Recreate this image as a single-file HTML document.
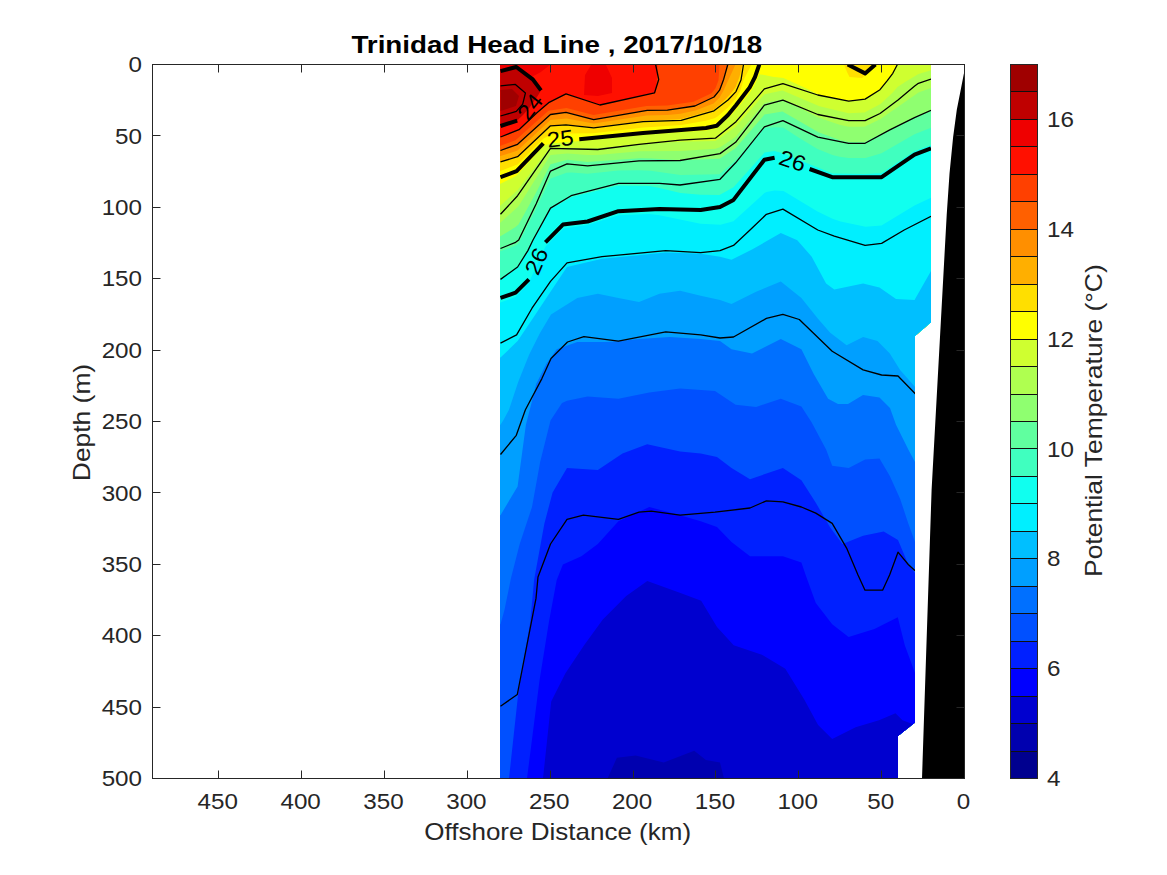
<!DOCTYPE html>
<html><head><meta charset="utf-8"><style>
html,body{margin:0;padding:0;background:#fff;width:1167px;height:875px;overflow:hidden}
svg{position:absolute;left:0;top:0;display:block}
.tk{font-family:"Liberation Sans",sans-serif;font-size:22px;fill:#262626}
.lbl{font-family:"Liberation Sans",sans-serif;font-size:23px;fill:#262626}
.ttl{font-family:"Liberation Sans",sans-serif;font-size:23px;font-weight:bold;fill:#000}
</style></head><body>
<svg width="1167" height="875" viewBox="0 0 1167 875" shape-rendering="auto">
<rect x="1010.5" y="751.04" width="27" height="27.46" fill="#00008f"/>
<rect x="1010.5" y="723.58" width="27" height="27.46" fill="#0000af"/>
<rect x="1010.5" y="696.12" width="27" height="27.46" fill="#0000cf"/>
<rect x="1010.5" y="668.65" width="27" height="27.46" fill="#0000ff"/>
<rect x="1010.5" y="641.19" width="27" height="27.46" fill="#0020ff"/>
<rect x="1010.5" y="613.73" width="27" height="27.46" fill="#0050ff"/>
<rect x="1010.5" y="586.27" width="27" height="27.46" fill="#0070ff"/>
<rect x="1010.5" y="558.81" width="27" height="27.46" fill="#009fff"/>
<rect x="1010.5" y="531.35" width="27" height="27.46" fill="#00bfff"/>
<rect x="1010.5" y="503.88" width="27" height="27.46" fill="#00efff"/>
<rect x="1010.5" y="476.42" width="27" height="27.46" fill="#10ffef"/>
<rect x="1010.5" y="448.96" width="27" height="27.46" fill="#40ffbf"/>
<rect x="1010.5" y="421.50" width="27" height="27.46" fill="#60ff9f"/>
<rect x="1010.5" y="394.04" width="27" height="27.46" fill="#8fff70"/>
<rect x="1010.5" y="366.58" width="27" height="27.46" fill="#afff50"/>
<rect x="1010.5" y="339.12" width="27" height="27.46" fill="#cfff30"/>
<rect x="1010.5" y="311.65" width="27" height="27.46" fill="#ffff00"/>
<rect x="1010.5" y="284.19" width="27" height="27.46" fill="#ffdf00"/>
<rect x="1010.5" y="256.73" width="27" height="27.46" fill="#ffaf00"/>
<rect x="1010.5" y="229.27" width="27" height="27.46" fill="#ff8f00"/>
<rect x="1010.5" y="201.81" width="27" height="27.46" fill="#ff6000"/>
<rect x="1010.5" y="174.35" width="27" height="27.46" fill="#ff4000"/>
<rect x="1010.5" y="146.88" width="27" height="27.46" fill="#ff1000"/>
<rect x="1010.5" y="119.42" width="27" height="27.46" fill="#ef0000"/>
<rect x="1010.5" y="91.96" width="27" height="27.46" fill="#bf0000"/>
<rect x="1010.5" y="64.50" width="27" height="27.46" fill="#9f0000"/>
<line x1="1010" y1="751.50" x2="1038" y2="751.50" stroke="#101010" stroke-width="1"/>
<line x1="1010" y1="723.50" x2="1038" y2="723.50" stroke="#101010" stroke-width="1"/>
<line x1="1010" y1="696.50" x2="1038" y2="696.50" stroke="#101010" stroke-width="1"/>
<line x1="1010" y1="668.50" x2="1038" y2="668.50" stroke="#101010" stroke-width="1"/>
<line x1="1010" y1="641.50" x2="1038" y2="641.50" stroke="#101010" stroke-width="1"/>
<line x1="1010" y1="613.50" x2="1038" y2="613.50" stroke="#101010" stroke-width="1"/>
<line x1="1010" y1="586.50" x2="1038" y2="586.50" stroke="#101010" stroke-width="1"/>
<line x1="1010" y1="558.50" x2="1038" y2="558.50" stroke="#101010" stroke-width="1"/>
<line x1="1010" y1="531.50" x2="1038" y2="531.50" stroke="#101010" stroke-width="1"/>
<line x1="1010" y1="503.50" x2="1038" y2="503.50" stroke="#101010" stroke-width="1"/>
<line x1="1010" y1="476.50" x2="1038" y2="476.50" stroke="#101010" stroke-width="1"/>
<line x1="1010" y1="448.50" x2="1038" y2="448.50" stroke="#101010" stroke-width="1"/>
<line x1="1010" y1="421.50" x2="1038" y2="421.50" stroke="#101010" stroke-width="1"/>
<line x1="1010" y1="394.50" x2="1038" y2="394.50" stroke="#101010" stroke-width="1"/>
<line x1="1010" y1="366.50" x2="1038" y2="366.50" stroke="#101010" stroke-width="1"/>
<line x1="1010" y1="339.50" x2="1038" y2="339.50" stroke="#101010" stroke-width="1"/>
<line x1="1010" y1="311.50" x2="1038" y2="311.50" stroke="#101010" stroke-width="1"/>
<line x1="1010" y1="284.50" x2="1038" y2="284.50" stroke="#101010" stroke-width="1"/>
<line x1="1010" y1="256.50" x2="1038" y2="256.50" stroke="#101010" stroke-width="1"/>
<line x1="1010" y1="229.50" x2="1038" y2="229.50" stroke="#101010" stroke-width="1"/>
<line x1="1010" y1="201.50" x2="1038" y2="201.50" stroke="#101010" stroke-width="1"/>
<line x1="1010" y1="174.50" x2="1038" y2="174.50" stroke="#101010" stroke-width="1"/>
<line x1="1010" y1="146.50" x2="1038" y2="146.50" stroke="#101010" stroke-width="1"/>
<line x1="1010" y1="119.50" x2="1038" y2="119.50" stroke="#101010" stroke-width="1"/>
<line x1="1010" y1="91.50" x2="1038" y2="91.50" stroke="#101010" stroke-width="1"/>
<rect x="1010.5" y="64.5" width="27" height="714" fill="none" stroke="#262626" stroke-width="1"/>
<defs><clipPath id="dc"><polygon points="500,64 931,64 931,322.3 915,336 915,722.4 898,736 898,779 500,779"/></clipPath></defs>
<g clip-path="url(#dc)">
<rect x="495" y="60" width="440" height="720" fill="#ef0000"/>
<polygon points="495.0,91.7 500.5,91.7 518.5,83.9 540.5,72.2 550.5,64.5 931.0,64.5 940.0,64.5 940.0,782.0 495.0,782.0" fill="#ff1000"/>
<polygon points="495.0,137.0 500.5,137.0 518.5,129.9 536.5,113.1 548.5,102.9 565.5,94.2 566.5,94.1 600.5,104.9 654.5,92.8 656.5,86.6 657.5,64.5 931.0,64.5 940.0,64.5 940.0,782.0 495.0,782.0" fill="#ff4000"/>
<polygon points="495.0,145.7 500.5,145.7 515.5,140.2 548.5,110.7 566.5,107.9 593.5,115.1 646.5,106.0 667.5,105.5 693.5,101.7 711.5,93.2 715.5,88.2 718.5,80.3 719.5,64.5 931.0,64.5 940.0,64.5 940.0,782.0 495.0,782.0" fill="#ff6000"/>
<polygon points="495.0,150.5 500.5,150.5 517.5,144.3 550.5,114.5 566.5,112.5 593.5,119.5 646.5,110.5 667.5,110.1 695.5,105.7 713.5,97.2 719.5,90.3 723.5,79.7 727.5,65.6 728.5,64.5 931.0,64.5 940.0,64.5 940.0,782.0 495.0,782.0" fill="#ff8f00"/>
<polygon points="495.0,156.1 500.5,156.1 517.5,150.5 550.5,120.0 566.5,118.4 593.5,123.5 646.5,115.6 667.5,115.0 680.5,113.7 695.5,110.5 713.5,103.5 719.5,97.7 723.5,90.5 735.5,64.5 931.0,64.5 940.0,64.5 940.0,782.0 495.0,782.0" fill="#ffaf00"/>
<polygon points="495.0,161.8 500.5,161.8 517.5,156.6 550.5,125.4 566.5,124.3 593.5,127.4 643.5,120.8 680.5,119.3 713.5,109.7 719.5,105.1 724.5,100.3 729.5,95.0 735.5,87.2 739.5,76.7 742.5,64.5 931.0,64.5 940.0,64.5 940.0,782.0 495.0,782.0" fill="#ffdf00"/>
<polygon points="495.0,170.9 500.5,170.9 517.5,164.5 543.5,138.5 550.5,135.1 566.5,133.6 593.5,133.2 643.5,127.4 681.5,125.1 705.5,120.7 714.5,118.3 717.5,116.6 727.5,107.9 735.5,99.0 740.5,90.3 743.5,80.0 751.5,64.5 857.5,64.5 858.5,64.8 864.5,69.9 865.5,69.6 869.5,64.5 931.0,64.5 940.0,64.5 940.0,782.0 495.0,782.0" fill="#ffff00"/>
<polygon points="495.0,183.7 500.5,183.7 516.5,175.7 543.5,145.9 550.5,143.5 597.5,139.5 643.5,134.8 705.5,130.4 716.5,128.6 728.5,117.8 736.5,109.2 749.5,93.3 754.5,85.1 759.5,74.6 764.5,74.9 772.5,76.8 783.5,78.0 807.5,89.1 819.5,95.2 849.5,101.0 865.5,98.8 879.5,90.0 892.5,73.7 897.5,64.5 931.0,64.5 940.0,64.5 940.0,782.0 495.0,782.0" fill="#cfff30"/>
<polygon points="495.0,205.6 500.5,205.6 517.5,190.3 543.5,155.7 550.5,147.4 597.5,148.3 650.5,143.2 679.5,141.7 715.5,140.9 735.5,126.9 764.5,94.2 782.5,90.4 819.5,106.3 848.5,113.3 864.5,112.6 880.5,104.1 892.5,92.7 897.5,86.9 905.5,81.7 918.5,74.1 931.0,70.3 940.0,70.3 940.0,782.0 495.0,782.0" fill="#afff50"/>
<polygon points="495.0,222.5 500.5,222.5 518.5,206.3 550.5,155.1 567.5,153.6 587.5,155.0 597.5,155.0 639.5,151.2 680.5,151.0 715.5,148.8 720.5,147.1 735.5,137.0 764.5,102.9 782.5,99.3 794.5,104.9 817.5,117.3 839.5,124.8 848.5,126.7 864.5,126.8 880.5,119.1 918.5,92.5 931.0,88.0 940.0,88.0 940.0,782.0 495.0,782.0" fill="#8fff70"/>
<polygon points="495.0,236.2 500.5,236.2 515.5,227.1 518.5,224.5 535.5,193.8 550.5,164.2 567.5,159.8 587.5,161.9 639.5,158.3 651.5,158.5 679.5,160.2 719.5,158.8 735.5,148.2 764.5,114.6 782.5,111.5 818.5,132.3 839.5,139.9 848.5,141.9 864.5,142.2 914.5,117.2 931.0,110.4 940.0,110.4 940.0,782.0 495.0,782.0" fill="#60ff9f"/>
<polygon points="495.0,251.3 500.5,251.3 515.5,245.6 518.5,243.4 535.5,210.1 550.5,178.6 566.5,172.7 571.5,172.6 587.5,173.7 618.5,170.6 638.5,170.2 650.5,170.7 680.5,175.1 719.5,174.3 735.5,160.5 759.5,132.9 764.5,128.0 774.5,127.3 782.5,127.4 783.5,127.8 798.5,137.6 817.5,149.0 832.5,155.0 839.5,156.7 848.5,157.9 865.5,158.0 881.5,153.3 914.5,134.3 931.0,127.7 940.0,127.7 940.0,782.0 495.0,782.0" fill="#40ffbf"/>
<polygon points="495.0,279.4 500.5,279.4 517.5,267.4 527.5,251.8 533.5,239.8 550.5,209.1 571.5,197.0 618.5,185.6 649.5,186.0 659.5,187.9 680.5,192.9 700.5,194.7 719.5,195.0 733.5,187.3 764.5,152.6 774.5,151.0 783.5,153.6 832.5,173.4 864.5,174.0 881.5,173.2 914.5,151.2 931.0,144.9 940.0,144.9 940.0,782.0 495.0,782.0" fill="#10ffef"/>
<polygon points="495.0,302.4 500.5,302.4 515.5,296.9 528.5,283.2 545.5,246.6 563.5,228.5 587.5,225.0 618.5,215.3 649.5,213.9 659.5,215.3 700.5,223.7 720.5,224.7 733.5,221.2 764.5,193.1 766.5,192.0 774.5,190.5 783.5,191.0 817.5,211.5 832.5,218.8 840.5,221.5 865.5,226.8 881.5,225.4 914.5,205.6 931.0,197.8 940.0,197.8 940.0,782.0 495.0,782.0" fill="#00efff"/>
<polygon points="495.0,357.5 500.5,357.5 517.6,341.1 534.1,316.4 550.5,291.7 567.0,267.0 602.0,258.8 665.7,252.6 700.7,253.7 720.0,256.7 731.5,259.8 752.0,249.5 780.8,233.1 797.3,240.3 811.7,256.7 826.1,283.5 834.3,289.6 863.1,283.5 879.5,287.6 896.0,298.9 914.5,299.9 931.0,271.1 940.0,271.1 940.0,782.0 495.0,782.0" fill="#00bfff"/>
<polygon points="495.0,424.7 500.5,424.7 503.2,420.6 509.0,409.7 518.1,382.3 529.1,354.8 540.0,332.9 551.0,314.6 577.3,297.9 597.8,293.8 618.4,297.9 639.0,302.0 659.5,293.8 680.1,290.7 700.7,295.8 720.0,299.9 731.5,304.0 756.1,291.7 780.8,281.4 801.4,297.9 817.8,318.4 830.2,332.8 846.6,345.2 863.1,337.0 877.5,341.1 889.8,353.4 900.1,369.9 916.0,388.0 940.0,388.0 940.0,782.0 495.0,782.0" fill="#009fff"/>
<polygon points="495.0,515.2 500.5,515.2 517.6,486.4 525.9,424.7 531.0,405.0 536.1,384.3 546.4,363.7 556.7,349.3 577.3,342.1 608.1,342.1 639.0,339.0 669.8,337.0 700.7,339.0 720.0,341.1 731.5,349.3 752.0,353.4 780.8,339.0 801.4,349.3 813.7,374.0 828.1,398.7 838.0,404.0 848.0,404.0 863.0,395.0 879.5,397.6 890.0,408.0 896.0,424.7 908.3,449.4 915.0,462.0 940.0,462.0 940.0,782.0 495.0,782.0" fill="#0070ff"/>
<polygon points="495.0,624.2 500.5,624.2 504.4,610.2 511.0,578.0 519.7,544.0 532.0,507.0 540.2,461.7 550.5,420.6 562.0,403.0 567.0,400.7 587.6,396.6 618.4,398.7 649.3,392.5 680.1,388.4 715.0,391.0 735.6,404.8 756.1,406.9 780.8,398.7 801.4,406.5 811.7,422.6 826.1,449.4 832.2,465.8 848.7,467.9 865.1,459.6 879.5,458.6 889.8,476.1 900.1,498.7 908.3,523.4 915.0,542.0 940.0,542.0 940.0,782.0 495.0,782.0" fill="#0050ff"/>
<polygon points="509.0,782.0 509.0,778.5 518.4,692.0 530.2,622.0 534.1,580.0 544.4,523.4 552.6,492.6 567.0,467.9 597.8,469.9 622.5,453.5 647.2,444.2 680.1,451.4 700.7,453.5 717.0,457.0 731.5,467.9 750.0,479.2 782.9,467.9 801.4,480.2 815.8,502.8 830.2,527.5 842.5,544.0 863.1,535.7 883.7,531.6 898.0,539.9 908.3,564.5 915.0,573.0 940.0,573.0 940.0,782.0" fill="#0020ff"/>
<polygon points="527.0,782.0 527.0,778.5 539.5,680.5 548.9,622.0 556.7,580.0 562.9,564.5 581.4,556.3 597.8,544.0 618.4,521.3 649.3,507.0 680.1,515.2 700.7,521.3 717.0,527.0 731.5,541.9 750.0,556.3 782.9,556.3 801.4,562.5 806.0,576.0 815.8,603.1 832.2,624.2 848.6,637.1 874.4,628.9 897.8,617.2 904.8,645.3 915.0,673.0 940.0,673.0 940.0,782.0" fill="#0000ff"/>
<polygon points="543.0,782.0 543.0,778.5 551.2,701.6 565.3,673.4 584.1,645.3 602.8,619.5 626.2,596.1 647.3,580.9 682.5,593.7 701.2,600.8 717.0,627.0 733.7,645.3 761.9,654.7 785.3,668.7 804.1,699.2 818.1,725.0 832.2,739.0 855.6,727.3 879.0,720.3 895.5,713.3 902.5,720.3 915.0,725.0 940.0,725.0 940.0,782.0" fill="#0000cf"/>
<polygon points="607.5,778.5 616.9,757.8 635.6,755.5 663.7,762.5 694.2,750.8 705.9,760.1 720.0,762.5 724.0,778.5" fill="#0000af"/>
<polygon points="500.5,71.1 516.3,67.0 532.8,79.4 541.0,90.4 537.0,97.0 530.0,107.0 523.0,115.0 517.2,120.6 500.5,126.0" fill="#bf0000"/>
<polygon points="500.5,90.0 512.0,89.0 519.0,96.0 516.0,106.0 500.5,111.0" fill="#9f0000"/>
<polygon points="584.0,95.0 585.0,75.0 591.0,65.0 606.0,65.0 612.0,78.0 612.0,93.0 598.0,96.0" fill="#ef0000"/>
<polygon points="844.0,64.5 847.0,72.0 849.5,77.0 862.0,78.0 868.0,73.0 876.0,64.5" fill="#ffdf00"/>
<polyline points="500.5,85.8 515.4,84.4 525.4,93.1 522.7,104.1 516.3,111.4 500.5,116.0" fill="none" stroke="#000" stroke-width="1.3" stroke-linejoin="round"/>
<polyline points="500.5,137.0 519.0,129.7 536.4,113.2 549.2,102.3 566.0,93.9 599.9,105.0 654.6,92.8 658.7,79.5 655.6,64.5" fill="none" stroke="#000" stroke-width="1.3" stroke-linejoin="round"/>
<polyline points="500.5,150.5 517.6,144.3 550.5,114.5 566.0,112.4 593.7,119.6 647.2,110.4 667.4,110.1 694.9,106.0 714.0,97.0 719.6,90.2 723.7,79.2 727.8,64.5" fill="none" stroke="#000" stroke-width="1.3" stroke-linejoin="round"/>
<polyline points="500.5,161.8 517.6,156.7 550.5,125.8 566.0,124.8 593.7,127.9 643.1,121.7 681.2,120.4 714.0,110.8 728.0,100.0 736.0,91.6 741.0,80.0 743.5,64.5" fill="none" stroke="#000" stroke-width="1.3" stroke-linejoin="round"/>
<polyline points="500.5,214.3 517.6,195.7 550.5,148.4 597.8,149.5 639.0,144.3 680.1,140.2 715.4,138.2 736.0,121.7 764.4,88.8 782.9,83.7 817.8,95.0 848.7,101.1 865.1,99.1 880.0,89.7 887.3,80.6 892.8,73.3 897.4,64.5" fill="none" stroke="#000" stroke-width="1.3" stroke-linejoin="round"/>
<polyline points="500.5,248.5 515.6,242.3 518.7,240.0 536.1,204.0 550.5,171.1 567.0,163.9 587.6,165.9 639.0,160.8 680.0,160.5 720.0,153.6 735.6,142.3 764.4,105.2 782.9,100.1 817.8,114.5 848.7,120.7 865.1,120.7 880.0,113.5 898.0,100.0 914.7,86.1 918.4,83.3 931.0,79.0" fill="none" stroke="#000" stroke-width="1.3" stroke-linejoin="round"/>
<polyline points="500.5,279.4 517.6,267.0 527.9,250.6 533.0,240.0 550.5,208.1 571.1,195.7 618.4,183.4 659.5,183.4 680.0,185.0 720.0,179.3 735.6,162.8 764.4,126.8 782.9,120.7 817.8,137.1 848.7,143.3 865.1,143.3 889.8,129.9 914.5,117.6 931.0,110.4" fill="none" stroke="#000" stroke-width="1.3" stroke-linejoin="round"/>
<polyline points="500.5,343.1 516.6,334.9 532.0,308.2 550.5,281.4 567.0,262.9 602.0,256.7 665.7,250.6 700.7,252.6 720.0,250.6 733.5,245.4 750.0,230.0 766.4,214.3 782.9,209.1 817.8,230.0 834.3,236.2 865.1,245.4 881.6,243.4 904.2,230.0 931.0,216.3" fill="none" stroke="#000" stroke-width="1.3" stroke-linejoin="round"/>
<polyline points="500.5,454.5 516.3,435.3 525.4,409.7 541.9,378.6 551.0,358.5 567.5,342.0 583.9,336.6 618.4,341.1 665.7,331.8 700.7,334.9 720.0,338.0 733.5,337.0 766.4,318.4 782.9,314.3 799.3,319.5 832.2,351.3 863.1,369.9 881.6,375.0 898.0,376.0 916.0,394.5" fill="none" stroke="#000" stroke-width="1.3" stroke-linejoin="round"/>
<polyline points="500.5,706.2 517.3,694.5 536.0,598.4 538.0,577.0 550.5,544.0 567.0,519.3 583.4,515.2 618.4,519.3 639.0,512.1 651.3,511.1 680.1,515.2 715.0,512.1 750.0,508.0 766.4,500.8 782.9,501.8 801.4,507.0 815.8,513.1 832.2,523.4 846.6,548.1 858.0,575.0 865.0,590.2 882.6,590.2 889.6,575.0 898.0,552.2 908.3,564.5 915.0,570.7" fill="none" stroke="#000" stroke-width="1.3" stroke-linejoin="round"/>
<polyline points="500.5,71.1 516.3,67.0 532.8,79.4 541.0,90.4" fill="none" stroke="#000" stroke-width="4" stroke-linejoin="round" stroke-linecap="butt"/>
<polyline points="517.2,120.6 500.5,126.0" fill="none" stroke="#000" stroke-width="4" stroke-linejoin="round" stroke-linecap="butt"/>
<polyline points="500.5,177.2 516.6,171.1 543.3,143.3" fill="none" stroke="#000" stroke-width="4" stroke-linejoin="round" stroke-linecap="butt"/>
<polyline points="579.3,139.2 643.1,133.0 681.2,130.0 706.0,128.0 716.8,125.8 728.0,115.0 736.0,105.3 749.7,87.4 755.0,77.0 759.3,64.5" fill="none" stroke="#000" stroke-width="4" stroke-linejoin="round" stroke-linecap="butt"/>
<polyline points="847.7,64.5 865.1,73.4 875.4,64.5" fill="none" stroke="#000" stroke-width="4" stroke-linejoin="round" stroke-linecap="butt"/>
<polyline points="500.5,297.9 515.6,292.7 528.9,279.4" fill="none" stroke="#000" stroke-width="4" stroke-linejoin="round" stroke-linecap="butt"/>
<polyline points="545.4,242.3 562.9,224.6 587.6,221.5 618.4,211.2 659.5,209.1 700.7,210.1 720.0,207.1 733.5,199.9 764.4,159.8 774.6,157.7" fill="none" stroke="#000" stroke-width="4" stroke-linejoin="round" stroke-linecap="butt"/>
<polyline points="809.6,169.0 832.2,177.2 881.6,177.2 914.5,154.6 931.0,148.4" fill="none" stroke="#000" stroke-width="4" stroke-linejoin="round" stroke-linecap="butt"/>
</g>
<text transform="translate(530,106.8) rotate(-52) scale(1.08,1)" text-anchor="middle" dominant-baseline="central" style="font-family:'Liberation Sans',sans-serif;font-size:22px;fill:#000">24</text>
<text transform="translate(560.2,138.5) rotate(-7) scale(1.08,1)" text-anchor="middle" dominant-baseline="central" style="font-family:'Liberation Sans',sans-serif;font-size:22px;fill:#000">25</text>
<text transform="translate(536.4,261.2) rotate(-66) scale(1.08,1)" text-anchor="middle" dominant-baseline="central" style="font-family:'Liberation Sans',sans-serif;font-size:22px;fill:#000">26</text>
<text transform="translate(792.5,160.8) rotate(18) scale(1.08,1)" text-anchor="middle" dominant-baseline="central" style="font-family:'Liberation Sans',sans-serif;font-size:22px;fill:#000">26</text>
<polygon points="964.5,70.5 960.4,91.6 956.8,109.8 953.1,137.3 949.5,173.8 946.7,215 931.6,490 922,778.5 964.5,778.5" fill="#000"/>
<rect x="152.5" y="64.5" width="812.0" height="714.0" fill="none" stroke="#262626" stroke-width="1"/>
<line x1="218.5" y1="778.5" x2="218.5" y2="770.5" stroke="#262626"/>
<line x1="218.5" y1="64.5" x2="218.5" y2="72.5" stroke="#262626"/>
<line x1="301.5" y1="778.5" x2="301.5" y2="770.5" stroke="#262626"/>
<line x1="301.5" y1="64.5" x2="301.5" y2="72.5" stroke="#262626"/>
<line x1="384.5" y1="778.5" x2="384.5" y2="770.5" stroke="#262626"/>
<line x1="384.5" y1="64.5" x2="384.5" y2="72.5" stroke="#262626"/>
<line x1="467.5" y1="778.5" x2="467.5" y2="770.5" stroke="#262626"/>
<line x1="467.5" y1="64.5" x2="467.5" y2="72.5" stroke="#262626"/>
<line x1="550.5" y1="778.5" x2="550.5" y2="770.5" stroke="#262626"/>
<line x1="550.5" y1="64.5" x2="550.5" y2="72.5" stroke="#262626"/>
<line x1="633.5" y1="778.5" x2="633.5" y2="770.5" stroke="#262626"/>
<line x1="633.5" y1="64.5" x2="633.5" y2="72.5" stroke="#262626"/>
<line x1="715.5" y1="778.5" x2="715.5" y2="770.5" stroke="#262626"/>
<line x1="715.5" y1="64.5" x2="715.5" y2="72.5" stroke="#262626"/>
<line x1="798.5" y1="778.5" x2="798.5" y2="770.5" stroke="#262626"/>
<line x1="798.5" y1="64.5" x2="798.5" y2="72.5" stroke="#262626"/>
<line x1="881.5" y1="778.5" x2="881.5" y2="770.5" stroke="#262626"/>
<line x1="881.5" y1="64.5" x2="881.5" y2="72.5" stroke="#262626"/>
<line x1="964.5" y1="778.5" x2="964.5" y2="770.5" stroke="#262626"/>
<line x1="964.5" y1="64.5" x2="964.5" y2="72.5" stroke="#262626"/>
<line x1="152.5" y1="64.5" x2="160.5" y2="64.5" stroke="#262626"/>
<line x1="964.5" y1="64.5" x2="956.5" y2="64.5" stroke="#262626"/>
<line x1="152.5" y1="135.5" x2="160.5" y2="135.5" stroke="#262626"/>
<line x1="964.5" y1="135.5" x2="956.5" y2="135.5" stroke="#262626"/>
<line x1="152.5" y1="207.5" x2="160.5" y2="207.5" stroke="#262626"/>
<line x1="964.5" y1="207.5" x2="956.5" y2="207.5" stroke="#262626"/>
<line x1="152.5" y1="278.5" x2="160.5" y2="278.5" stroke="#262626"/>
<line x1="964.5" y1="278.5" x2="956.5" y2="278.5" stroke="#262626"/>
<line x1="152.5" y1="350.5" x2="160.5" y2="350.5" stroke="#262626"/>
<line x1="964.5" y1="350.5" x2="956.5" y2="350.5" stroke="#262626"/>
<line x1="152.5" y1="421.5" x2="160.5" y2="421.5" stroke="#262626"/>
<line x1="964.5" y1="421.5" x2="956.5" y2="421.5" stroke="#262626"/>
<line x1="152.5" y1="492.5" x2="160.5" y2="492.5" stroke="#262626"/>
<line x1="964.5" y1="492.5" x2="956.5" y2="492.5" stroke="#262626"/>
<line x1="152.5" y1="564.5" x2="160.5" y2="564.5" stroke="#262626"/>
<line x1="964.5" y1="564.5" x2="956.5" y2="564.5" stroke="#262626"/>
<line x1="152.5" y1="635.5" x2="160.5" y2="635.5" stroke="#262626"/>
<line x1="964.5" y1="635.5" x2="956.5" y2="635.5" stroke="#262626"/>
<line x1="152.5" y1="707.5" x2="160.5" y2="707.5" stroke="#262626"/>
<line x1="964.5" y1="707.5" x2="956.5" y2="707.5" stroke="#262626"/>
<line x1="152.5" y1="778.5" x2="160.5" y2="778.5" stroke="#262626"/>
<line x1="964.5" y1="778.5" x2="956.5" y2="778.5" stroke="#262626"/>
<text transform="translate(142.00,72.10) scale(1.1,1)" text-anchor="end" class="tk">0</text>
<text transform="translate(142.00,143.50) scale(1.1,1)" text-anchor="end" class="tk">50</text>
<text transform="translate(142.00,214.90) scale(1.1,1)" text-anchor="end" class="tk">100</text>
<text transform="translate(142.00,286.30) scale(1.1,1)" text-anchor="end" class="tk">150</text>
<text transform="translate(142.00,357.70) scale(1.1,1)" text-anchor="end" class="tk">200</text>
<text transform="translate(142.00,429.10) scale(1.1,1)" text-anchor="end" class="tk">250</text>
<text transform="translate(142.00,500.50) scale(1.1,1)" text-anchor="end" class="tk">300</text>
<text transform="translate(142.00,571.90) scale(1.1,1)" text-anchor="end" class="tk">350</text>
<text transform="translate(142.00,643.30) scale(1.1,1)" text-anchor="end" class="tk">400</text>
<text transform="translate(142.00,714.70) scale(1.1,1)" text-anchor="end" class="tk">450</text>
<text transform="translate(142.00,786.10) scale(1.1,1)" text-anchor="end" class="tk">500</text>
<text transform="translate(217.79,808.60) scale(1.1,1)" text-anchor="middle" class="tk">450</text>
<text transform="translate(300.64,808.60) scale(1.1,1)" text-anchor="middle" class="tk">400</text>
<text transform="translate(383.50,808.60) scale(1.1,1)" text-anchor="middle" class="tk">350</text>
<text transform="translate(466.36,808.60) scale(1.1,1)" text-anchor="middle" class="tk">300</text>
<text transform="translate(549.21,808.60) scale(1.1,1)" text-anchor="middle" class="tk">250</text>
<text transform="translate(632.07,808.60) scale(1.1,1)" text-anchor="middle" class="tk">200</text>
<text transform="translate(714.93,808.60) scale(1.1,1)" text-anchor="middle" class="tk">150</text>
<text transform="translate(797.79,808.60) scale(1.1,1)" text-anchor="middle" class="tk">100</text>
<text transform="translate(880.64,808.60) scale(1.1,1)" text-anchor="middle" class="tk">50</text>
<text transform="translate(963.50,808.60) scale(1.1,1)" text-anchor="middle" class="tk">0</text>
<text transform="translate(1047.00,786.10) scale(1.1,1)" text-anchor="start" class="tk">4</text>
<text transform="translate(1047.00,676.25) scale(1.1,1)" text-anchor="start" class="tk">6</text>
<text transform="translate(1047.00,566.41) scale(1.1,1)" text-anchor="start" class="tk">8</text>
<text transform="translate(1047.00,456.56) scale(1.1,1)" text-anchor="start" class="tk">10</text>
<text transform="translate(1047.00,346.72) scale(1.1,1)" text-anchor="start" class="tk">12</text>
<text transform="translate(1047.00,236.87) scale(1.1,1)" text-anchor="start" class="tk">14</text>
<text transform="translate(1047.00,127.02) scale(1.1,1)" text-anchor="start" class="tk">16</text>
<text transform="translate(556.80,52.70) scale(1.209,1)" text-anchor="middle" class="ttl">Trinidad Head Line , 2017/10/18</text>
<text transform="translate(557.65,839.80) scale(1.131,1)" text-anchor="middle" class="lbl">Offshore Distance (km)</text>
<text transform="translate(90.10,422.50) rotate(-90) scale(1.148,1)" text-anchor="middle" class="lbl">Depth (m)</text>
<text transform="translate(1102.00,420.65) rotate(-90) scale(1.15,1)" text-anchor="middle" class="lbl">Potential Temperature (°C)</text>
</svg>
</body></html>
